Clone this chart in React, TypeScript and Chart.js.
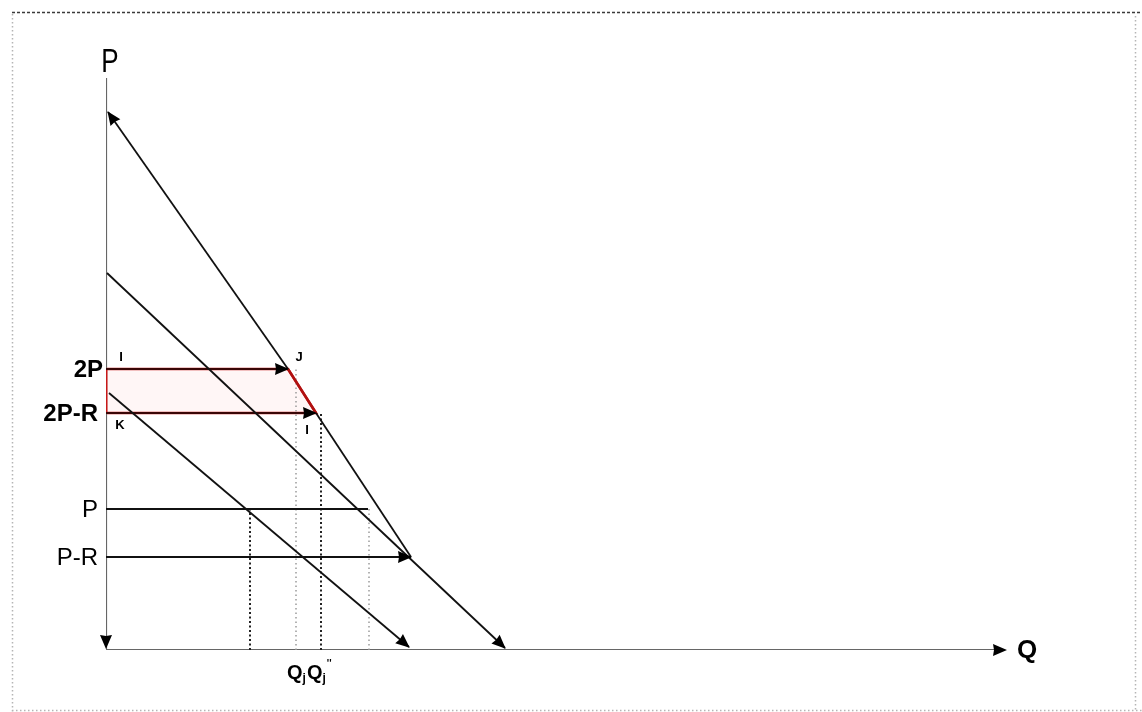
import { useEffect, useRef } from "react";
import { Chart, registerables } from "chart.js";

Chart.register(...registerables);

const W = 1142;
const H = 712;

// Axis ranges (quantity, price)
const Q_MAX = 90;
const P_MAX = 57.2;

// Demand curves as (quantity, price) pairs
const upperDemandQ = [0.2, 18.2, 21.0, 30.5];
const upperDemandP = [53.8, 28.1, 23.7, 9.3];
const middleDemandQ = [0.1, 39.9];
const middleDemandP = [37.7, 0.2];
const lowerDemandQ = [0.3, 30.3];
const lowerDemandP = [25.7, 0.3];

// Price levels marked on the vertical axis
const priceLabels = ["2P", "2P-R", "P", "P-R"];
const priceLevels = [28.1, 23.7, 14.1, 9.3];
const priceLineEnds = [18.2, 21.0, 26.2, 30.5];
const priceArrow = [true, true, false, true];
const priceBold = [true, true, false, false];

// Dotted drop lines down to the quantity axis
const dropQ = [14.4, 19.0, 21.5, 26.3];
const dropTop = [14.1, 28.1, 23.7, 14.1];
const dropStrong = [true, false, true, false];

// Shaded area between 2P and 2P-R
const areaQ = [0, 18.2, 21.0, 0, 0];
const areaP = [28.1, 28.1, 23.7, 23.7, 28.1];

// Corner letters of the shaded area
const pointNames = ["I", "J", "K", "I"];
const pointQ = [1.5, 19.3, 1.4, 20.1];
const pointP = [29.3, 29.3, 22.5, 22.0];

// Quantity labels under the drop lines
const qLabelDrop = [1, 2];
const qLabelSub = ["j", "j"];
const qLabelSup = ["", "''"];

const FONT = "'Liberation Sans', Arial, sans-serif";

const pts = (qs: number[], ps: number[]) => qs.map((q, i) => ({ x: q, y: ps[i] }));

function arrowHead(ctx: CanvasRenderingContext2D, fx: number, fy: number, tx: number, ty: number, len = 13, half = 6) {
  const a = Math.atan2(ty - fy, tx - fx);
  ctx.save();
  ctx.translate(tx, ty);
  ctx.rotate(a);
  ctx.beginPath();
  ctx.moveTo(1, 0);
  ctx.lineTo(-len, -half);
  ctx.lineTo(-len + 1, 0);
  ctx.lineTo(-len, half);
  ctx.closePath();
  ctx.fillStyle = "#000";
  ctx.fill();
  ctx.restore();
}

const decorations = {
  id: "decorations",
  beforeDraw(chart: any) {
    const ctx: CanvasRenderingContext2D = chart.ctx;
    ctx.save();
    ctx.fillStyle = "#fff";
    ctx.fillRect(0, 0, W, H);
    // dashed frame
    ctx.lineWidth = 1.5;
    ctx.strokeStyle = "#3a3a3a";
    ctx.setLineDash([3, 2]);
    ctx.beginPath();
    ctx.moveTo(12, 12.5);
    ctx.lineTo(W, 12.5);
    ctx.stroke();
    ctx.strokeStyle = "#b5b5b5";
    ctx.setLineDash([1.5, 2.5]);
    ctx.beginPath();
    ctx.moveTo(12.5, 14);
    ctx.lineTo(12.5, H);
    ctx.moveTo(12, 710.5);
    ctx.lineTo(W, 710.5);
    ctx.moveTo(1135.5, 16);
    ctx.lineTo(1135.5, H);
    ctx.stroke();
    ctx.restore();
  },
  afterDatasetsDraw(chart: any) {
    const ctx: CanvasRenderingContext2D = chart.ctx;
    const xs = chart.scales.x;
    const ys = chart.scales.y;
    const px = (q: number) => xs.getPixelForValue(q);
    const py = (p: number) => ys.getPixelForValue(p);
    const arr = (q1: number, p1: number, q2: number, p2: number) =>
      arrowHead(ctx, px(q1), py(p1), px(q2), py(p2));

    // axis arrows
    arr(80, 0, Q_MAX, 0);
    arr(0, 3, 0, 0.2);
    // demand curve ends
    arr(upperDemandQ[1], upperDemandP[1], upperDemandQ[0], upperDemandP[0]);
    arr(middleDemandQ[0], middleDemandP[0], middleDemandQ[1], middleDemandP[1]);
    arr(lowerDemandQ[0], lowerDemandP[0], lowerDemandQ[1], lowerDemandP[1]);
    // price line arrows
    priceLevels.forEach((p, i) => {
      if (priceArrow[i]) arr(0, p, priceLineEnds[i], p);
    });

    ctx.save();
    ctx.fillStyle = "#000";
    ctx.textBaseline = "middle";
    // price labels
    priceLabels.forEach((t, i) => {
      ctx.font = `${priceBold[i] ? "bold " : ""}24px ${FONT}`;
      ctx.textAlign = "right";
      ctx.fillText(t, px(0) - (i === 0 ? 3 : 8), py(priceLevels[i]) + 1);
    });
    // corner letters
    ctx.font = `bold 13px ${FONT}`;
    ctx.textAlign = "center";
    pointNames.forEach((t, i) => ctx.fillText(t, px(pointQ[i]), py(pointP[i])));

    // axis titles
    ctx.save();
    ctx.font = `26px ${FONT}`;
    ctx.textAlign = "center";
    ctx.textBaseline = "alphabetic";
    ctx.translate(px(0.4), 72);
    ctx.scale(1, 1.3);
    ctx.fillText("P", 0, 0);
    ctx.restore();

    ctx.font = `bold 26px ${FONT}`;
    ctx.textAlign = "left";
    ctx.textBaseline = "middle";
    ctx.fillText("Q", px(Q_MAX) + 11, py(0) + 1);

    // quantity labels, written one after the other under the drop lines
    ctx.textBaseline = "alphabetic";
    ctx.textAlign = "left";
    const base = py(0) + 29;
    let x = px(dropQ[qLabelDrop[0]]) - 9;
    qLabelDrop.forEach((_, i) => {
      ctx.font = `bold 20px ${FONT}`;
      ctx.fillText("Q", x, base);
      x += ctx.measureText("Q").width;
      ctx.font = `bold 12px ${FONT}`;
      ctx.fillText(qLabelSub[i], x, base + 3);
      x += ctx.measureText(qLabelSub[i]).width + 1;
      if (qLabelSup[i]) {
        ctx.font = `bold 10px ${FONT}`;
        ctx.fillText(qLabelSup[i], x, base - 12);
      }
    });
    ctx.restore();
  },
};

export default function App() {
  const ref = useRef<HTMLCanvasElement | null>(null);

  useEffect(() => {
    const canvas = ref.current;
    if (!canvas) return;
    const line = (data: { x: number; y: number }[], color: string, width: number, extra: any = {}) => ({
      data,
      showLine: true,
      pointRadius: 0,
      borderColor: color,
      borderWidth: width,
      fill: false,
      tension: 0,
      order: 1,
      ...extra,
    });

    const datasets: any[] = [
      // shaded area
      line(pts(areaQ, areaP), "#c81818", 2.6, {
        fill: "shape",
        backgroundColor: "#fff6f6",
        order: 5,
      }),
      // axes
      line([{ x: 0, y: 0 }, { x: Q_MAX - 1, y: 0 }], "#666", 2.2, { order: 4 }),
      line([{ x: 0, y: 0 }, { x: 0, y: P_MAX }], "#666", 2.2, { order: 4 }),
      // left edge of the shaded area
      line([{ x: areaQ[0], y: areaP[0] }, { x: areaQ[3], y: areaP[3] }], "#c81818", 2.6, { order: 2 }),
      // demand curves
      line(pts(upperDemandQ.slice(0, 2), upperDemandP.slice(0, 2)), "#111", 1.8),
      line(pts(upperDemandQ.slice(1, 3), upperDemandP.slice(1, 3)), "#b01010", 2.4),
      line(pts(upperDemandQ.slice(2), upperDemandP.slice(2)), "#111", 1.8),
      line(pts(middleDemandQ, middleDemandP), "#111", 1.8),
      line(pts(lowerDemandQ, lowerDemandP), "#111", 1.8),
    ];
    // price lines
    priceLevels.forEach((p, i) => {
      datasets.push(
        line([{ x: 0, y: p }, { x: priceLineEnds[i], y: p }], i < 2 ? "#3a0606" : "#111", i < 2 ? 2.2 : 1.8)
      );
    });
    // drop lines
    dropQ.forEach((q, i) => {
      datasets.push(
        line([{ x: q, y: 0 }, { x: q, y: dropTop[i] }], dropStrong[i] ? "#222" : "#9a9a9a", dropStrong[i] ? 2 : 1.5, {
          borderDash: dropStrong[i] ? [2, 2.5] : [1.5, 3],
          order: 3,
        })
      );
    });

    const chart = new Chart(canvas, {
      type: "scatter",
      data: { datasets },
      options: {
        responsive: false,
        animation: false,
        events: [],
        layout: { padding: { left: 106, right: W - 1006, top: 78, bottom: H - 650 } },
        scales: {
          x: { type: "linear", min: 0, max: Q_MAX, display: false },
          y: { type: "linear", min: 0, max: P_MAX, display: false },
        },
        plugins: {
          legend: { display: false },
          tooltip: { enabled: false },
        },
      },
      plugins: [decorations],
    });
    return () => chart.destroy();
  }, []);

  return (
    <div style={{ position: "fixed", left: 0, top: 0, width: W, height: H, background: "#fff" }}>
      <canvas ref={ref} width={W} height={H} style={{ display: "block" }} />
    </div>
  );
}
